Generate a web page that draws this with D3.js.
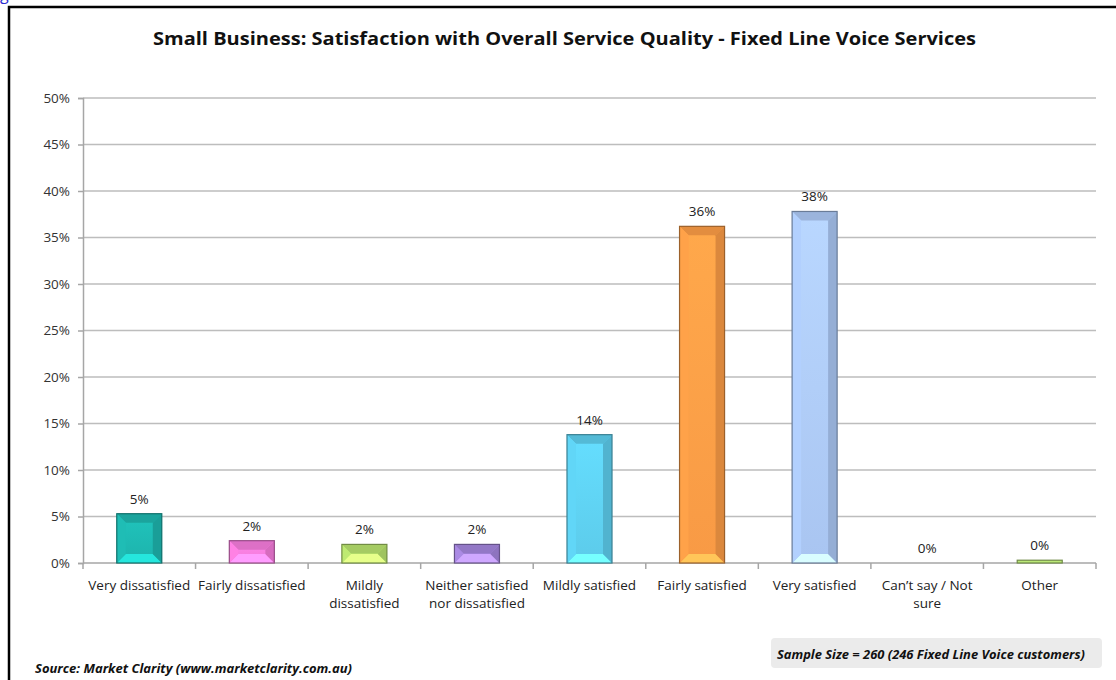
<!DOCTYPE html>
<html>
<head>
<meta charset="utf-8">
<script src="https://cdn.jsdelivr.net/npm/d3@7"></script>
<style>
  html, body { margin: 0; padding: 0; background: #fff; }
  svg { display: block; }
  text { font-family: "Open Sans", "Liberation Sans", sans-serif; }
</style>
</head>
<body>
<svg id="chart" width="1116" height="680"></svg>
<script>
// Survey answers (line breaks mark how each axis label wraps)
const categories = [
  "Very dissatisfied",
  "Fairly dissatisfied",
  "Mildly\ndissatisfied",
  "Neither satisfied\nnor dissatisfied",
  "Mildly satisfied",
  "Fairly satisfied",
  "Very satisfied",
  "Can\u2019t say / Not\nsure",
  "Other"
];
// Share of respondents (fraction)
const shares = [0.053, 0.024, 0.020, 0.020, 0.138, 0.362, 0.378, 0.000, 0.003];
const barColors = ["#1db3ac", "#f27ad8", "#b4de6c", "#a183d8", "#5ccbea", "#f89a45", "#a9c5f1", "#c0c0c0", "#b2dd72"];
const yTicks = [0, 0.05, 0.10, 0.15, 0.20, 0.25, 0.30, 0.35, 0.40, 0.45, 0.50];

const titleText = "Small Business: Satisfaction with Overall Service Quality - Fixed Line Voice Services";
const sourceText = "Source: Market Clarity (www.marketclarity.com.au)";
const sampleText = "Sample Size = 260 (246 Fixed Line Voice customers)";

const svg = d3.select("#chart");
const pct = d3.format(".0%");

// Caption fragment above the frame
svg.append("text").attr("x", 0).attr("y", 0)
  .attr("font-size", 16).attr("fill", "#2a2ad0").text("g");

// Chart frame
svg.append("path")
  .attr("d", "M9,690 L9,7 L1120,7")
  .attr("fill", "none").attr("stroke", "#000").attr("stroke-width", 2.5);

const plotLeft = 83, plotRight = 1096, plotTop = 98, plotBottom = 563;

const x = d3.scaleBand().domain(categories).range([plotLeft, plotRight]).paddingInner(0.6).paddingOuter(0.3);
const xb = d3.scaleBand().domain(categories).range([plotLeft, plotRight]).padding(0);
const y = d3.scaleLinear().domain([0, 0.5]).range([plotBottom, plotTop]);

// Title, fitted to its width
svg.append("text")
  .attr("x", 564.5).attr("y", 45)
  .attr("text-anchor", "middle")
  .attr("font-weight", 700).attr("font-size", 17.5).attr("fill", "#111")
  .attr("textLength", 823).attr("lengthAdjust", "spacingAndGlyphs")
  .text(titleText);

// Gridlines
svg.append("g").selectAll("line").data(yTicks.slice(1)).join("line")
  .attr("x1", plotLeft).attr("x2", plotRight)
  .attr("y1", d => y(d)).attr("y2", d => y(d))
  .attr("stroke", "#bdbdbd").attr("stroke-width", 1.5);

// Y axis
const yAxis = svg.append("g").attr("transform", `translate(${plotLeft},0)`)
  .call(d3.axisLeft(y).tickValues(yTicks).tickFormat(pct).tickSizeOuter(0).tickSize(5).tickPadding(8));
yAxis.select(".domain").attr("stroke", "#a6a6a6").attr("stroke-width", 1.5);
yAxis.selectAll(".tick line").attr("stroke", "#a6a6a6").attr("stroke-width", 1.5);
yAxis.selectAll("text").attr("font-size", 13.5).attr("fill", "#333")
  .attr("font-family", "'Open Sans', sans-serif");

// X axis baseline and category separators
svg.append("line").attr("x1", plotLeft).attr("x2", plotRight).attr("y1", plotBottom).attr("y2", plotBottom)
  .attr("stroke", "#a6a6a6").attr("stroke-width", 1.5);
const seps = categories.map(c => xb(c)).concat([plotRight]);
svg.append("g").selectAll("line").data(seps).join("line")
  .attr("x1", d => d).attr("x2", d => d)
  .attr("y1", plotBottom).attr("y2", plotBottom + 6)
  .attr("stroke", "#a6a6a6").attr("stroke-width", 1.5);

// Category labels
const xl = svg.append("g").selectAll("text").data(categories).join("text")
  .attr("x", d => xb(d) + xb.bandwidth() / 2)
  .attr("y", 590)
  .attr("text-anchor", "middle").attr("font-size", 13.5).attr("fill", "#222");
xl.each(function(d) {
  const lines = d.split("\n");
  d3.select(this).selectAll("tspan").data(lines).join("tspan")
    .attr("x", xb(d) + xb.bandwidth() / 2)
    .attr("dy", (l, i) => i === 0 ? 0 : 18)
    .text(l => l);
});

// Bars with bevelled faces
const defs = svg.append("defs");
const data = categories.map((c, i) => ({ c, v: shares[i], col: barColors[i], i }));

data.forEach(d => {
  const g = defs.append("linearGradient").attr("id", "grad" + d.i)
    .attr("x1", 0).attr("x2", 0).attr("y1", 0).attr("y2", 1);
  g.append("stop").attr("offset", "0%").attr("stop-color", d3.color(d.col).brighter(0.25));
  g.append("stop").attr("offset", "100%").attr("stop-color", d.col);
});

const bars = svg.append("g").selectAll("g").data(data.filter(d => d.v > 0)).join("g");
bars.each(function(d) {
  const g = d3.select(this);
  const x0 = x(d.c), w = x.bandwidth();
  const y0 = y(d.v), h = plotBottom - y0;
  const b = Math.min(9, h / 2, w / 2);
  const c = d3.color(d.col);
  g.append("rect").attr("x", x0).attr("y", y0).attr("width", w).attr("height", h)
    .attr("fill", `url(#grad${d.i})`);
  if (h > 3) {
    // top face
    g.append("polygon")
      .attr("points", [[x0, y0], [x0 + w, y0], [x0 + w - b, y0 + b], [x0 + b, y0 + b]].join(" "))
      .attr("fill", c.darker(0.25));
    // bottom face
    g.append("polygon")
      .attr("points", [[x0, plotBottom], [x0 + w, plotBottom], [x0 + w - b, plotBottom - b], [x0 + b, plotBottom - b]].join(" "))
      .attr("fill", c.brighter(0.7));
    // left face
    g.append("polygon")
      .attr("points", [[x0, y0], [x0 + b, y0 + b], [x0 + b, plotBottom - b], [x0, plotBottom]].join(" "))
      .attr("fill", c.brighter(0.15));
    // right face
    g.append("polygon")
      .attr("points", [[x0 + w, y0], [x0 + w - b, y0 + b], [x0 + w - b, plotBottom - b], [x0 + w, plotBottom]].join(" "))
      .attr("fill", c.darker(0.35));
  }
  g.append("rect").attr("x", x0).attr("y", y0).attr("width", w).attr("height", h)
    .attr("fill", "none").attr("stroke", c.darker(1.3)).attr("stroke-width", 1.2);
});

// Value labels
svg.append("g").selectAll("text").data(data).join("text")
  .attr("x", d => x(d.c) + x.bandwidth() / 2)
  .attr("y", d => y(d.v) - 10)
  .attr("text-anchor", "middle").attr("font-size", 13.5).attr("fill", "#222")
  .text(d => pct(d.v));

// Source note
svg.append("text").attr("x", 35).attr("y", 673)
  .attr("font-size", 12.5).attr("font-weight", 700).attr("font-style", "italic").attr("fill", "#111")
  .attr("textLength", 317).attr("lengthAdjust", "spacingAndGlyphs")
  .text(sourceText);

// Sample size box
svg.append("rect").attr("x", 771).attr("y", 638).attr("width", 331).attr("height", 30)
  .attr("rx", 4).attr("fill", "#ebebeb");
svg.append("text").attr("x", 777).attr("y", 659)
  .attr("font-size", 12.5).attr("font-weight", 700).attr("font-style", "italic").attr("fill", "#111")
  .attr("textLength", 308).attr("lengthAdjust", "spacingAndGlyphs")
  .text(sampleText);
</script>
</body>
</html>
